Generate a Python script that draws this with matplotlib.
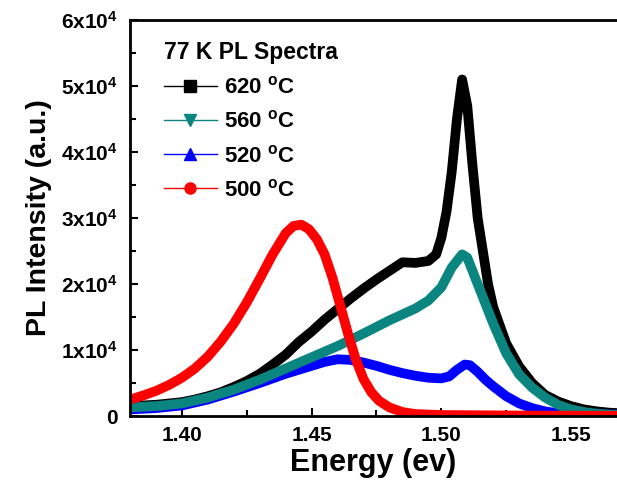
import matplotlib
matplotlib.use('Agg')
import matplotlib.pyplot as plt
from matplotlib.lines import Line2D
from matplotlib.ticker import MultipleLocator, FuncFormatter

plt.rcParams['font.family'] = ['Liberation Sans', 'DejaVu Sans']
plt.rcParams['font.weight'] = 'bold'
plt.rcParams['mathtext.fontset'] = 'custom'
plt.rcParams['mathtext.rm'] = 'Liberation Sans:bold'
plt.rcParams['mathtext.it'] = 'Liberation Sans:bold'
plt.rcParams['mathtext.bf'] = 'Liberation Sans:bold'

# ---- data ----
e_620 = [1.380, 1.385, 1.390, 1.395, 1.400, 1.405, 1.410, 1.415, 1.420, 1.425,
         1.430, 1.435, 1.440, 1.445, 1.450, 1.455, 1.460, 1.465, 1.470, 1.475,
         1.480, 1.485, 1.490, 1.495, 1.498, 1.500, 1.502, 1.504, 1.506, 1.508,
         1.510, 1.512, 1.514, 1.516, 1.518, 1.520, 1.525, 1.530, 1.535, 1.540,
         1.545, 1.550, 1.555, 1.560, 1.565, 1.570]
i_620 = [1500, 1600, 1700, 1900, 2100, 2500, 3000, 3600, 4400, 5300,
         6400, 7800, 9300, 11200, 12800, 14600, 16200, 17800, 19300, 20700,
         22000, 23300, 23200, 23500, 24500, 27000, 31000, 37000, 45000, 51000,
         47000, 38000, 30000, 25000, 20000, 16500, 11000, 7500, 5000, 3200,
         2200, 1500, 1000, 700, 500, 400]

e_560 = [1.380, 1.390, 1.400, 1.410, 1.420, 1.430, 1.440, 1.450, 1.460, 1.470,
         1.480, 1.490, 1.495, 1.500, 1.504, 1.508, 1.510, 1.512, 1.515, 1.518,
         1.520, 1.525, 1.530, 1.535, 1.540, 1.545, 1.550, 1.555, 1.560, 1.565,
         1.570]
i_560 = [1300, 1500, 1900, 2800, 4000, 5500, 7200, 8900, 10600, 12500,
         14500, 16300, 17500, 19500, 22500, 24500, 24000, 22000, 19000, 16000,
         14000, 9500, 6300, 4300, 2800, 1700, 1000, 600, 350, 200,
         150]

e_520 = [1.380, 1.390, 1.400, 1.410, 1.420, 1.430, 1.440, 1.450, 1.455, 1.460,
         1.465, 1.470, 1.475, 1.480, 1.485, 1.490, 1.495, 1.500, 1.503, 1.506,
         1.509, 1.511, 1.514, 1.517, 1.520, 1.525, 1.530, 1.535, 1.540, 1.545,
         1.550, 1.560, 1.570]
i_520 = [1000, 1200, 1600, 2500, 3700, 5000, 6400, 7600, 8200, 8600,
         8500, 8100, 7600, 7000, 6500, 6100, 5800, 5700, 6000, 7000,
         7800, 7700, 6700, 5500, 4500, 3000, 1900, 1200, 700, 400,
         300, 250, 200]

e_500 = [1.380, 1.385, 1.390, 1.395, 1.400, 1.405, 1.410, 1.415, 1.420, 1.425,
         1.430, 1.435, 1.440, 1.443, 1.446, 1.449, 1.452, 1.455, 1.458, 1.461,
         1.464, 1.467, 1.470, 1.473, 1.476, 1.480, 1.485, 1.490, 1.500, 1.520,
         1.540, 1.570]
i_500 = [2500, 3100, 3800, 4700, 5800, 7200, 9000, 11300, 14000, 17200,
         20800, 24500, 27700, 28800, 29000, 28300, 26800, 24500, 21000, 16800,
         12500, 8600, 5600, 3600, 2300, 1300, 600, 300, 150, 100,
         50, 30]

labels = ['620 $^{\\rm o}$C', '560 $^{\\rm o}$C', '520 $^{\\rm o}$C', '500 $^{\\rm o}$C']
colors = ['#000000', '#0a8580', '#0000ff', '#ff0000']
markers = ['s', 'v', '^', 'o']

fig = plt.figure(figsize=(6.17, 4.9), dpi=100)
ax = fig.add_axes([0.2107, 0.151, 0.7893, 0.808])

# draw order: black, blue, teal, red
kw = dict(lw=7, solid_joinstyle='round', solid_capstyle='round')
ax.plot(e_620, i_620, color=colors[0], **kw)
ax.plot(e_520, i_520, color=colors[2], **kw)
ax.plot(e_560, i_560, color=colors[1], **kw)
ax.plot(e_500, i_500, color=colors[3], **kw)

ax.set_xlim(1.38, 1.5677)
ax.set_ylim(0, 60000)

ax.xaxis.set_major_locator(MultipleLocator(0.05))
ax.xaxis.set_minor_locator(MultipleLocator(0.025))
ax.yaxis.set_major_locator(MultipleLocator(10000))
ax.yaxis.set_minor_locator(MultipleLocator(5000))
ax.xaxis.set_major_formatter(FuncFormatter(lambda v, p: f'{v:.2f}'))


def yfmt(v, p):
    if v == 0:
        return '0'
    return f'{int(round(v / 10000))}x10$^{{4}}$'


ax.yaxis.set_major_formatter(FuncFormatter(yfmt))

ax.tick_params(which='both', direction='in', width=1.5, labelsize=15)
ax.tick_params(axis='x', pad=7)
ax.tick_params(axis='y', pad=9)
ax.tick_params(which='major', length=6)
ax.tick_params(which='minor', length=4)
ax.tick_params(top=False, right=False)
for lab in ax.get_xticklabels() + ax.get_yticklabels():
    lab.set_fontweight('bold')

ax.spines['right'].set_visible(False)
for s in ['left', 'top', 'bottom']:
    ax.spines[s].set_linewidth(2)

ax.set_xlabel('Energy (ev)', fontsize=22, fontweight='bold', labelpad=2)
ax.set_ylabel('PL Intensity (a.u.)', fontsize=20.5, fontweight='bold', labelpad=6)

handles = [Line2D([0], [0], color=c, lw=1, marker=m, markersize=8,
                  markerfacecolor=c, markeredgecolor=c)
           for c, m in zip(colors, markers)]
leg = ax.legend(handles, labels, title='77 K PL Spectra', loc='upper left',
                bbox_to_anchor=(0.028, 0.997), frameon=False, fontsize=16,
                title_fontproperties={'weight': 'bold', 'size': 16.5},
                handlelength=2.4, labelspacing=0.55, alignment='left',
                handletextpad=0.3)
for t in leg.get_texts():
    t.set_fontweight('bold')

fig.savefig('out.png', dpi=100)
